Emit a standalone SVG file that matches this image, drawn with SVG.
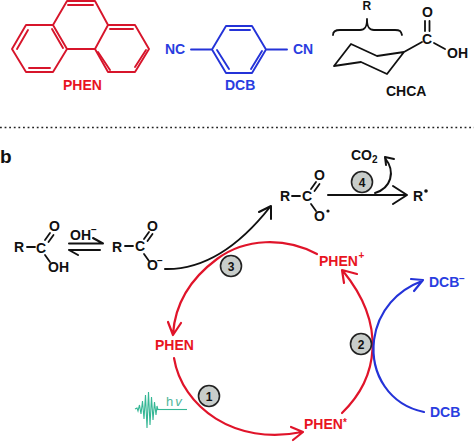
<svg xmlns="http://www.w3.org/2000/svg" width="474" height="444" viewBox="0 0 474 444">
<style>
text{font-family:"Liberation Sans",Arial,sans-serif;font-weight:bold;font-size:14px;fill:#111}
.r{fill:#e8141f}.u{fill:#2a3de0}.sm{font-size:10px}
.bond{fill:none;stroke:#111;stroke-width:1.800;stroke-linecap:round;stroke-linejoin:round}
.rb{fill:none;stroke:#d7152b;stroke-width:1.900;stroke-linecap:round;stroke-linejoin:round}
.ub{fill:none;stroke:#2433d8;stroke-width:1.900;stroke-linecap:round;stroke-linejoin:round}
.ca{fill:none;stroke:#111;stroke-width:2;stroke-linecap:round;stroke-linejoin:round}
.cr{fill:none;stroke:#e0142a;stroke-width:2.200;stroke-linecap:round;stroke-linejoin:round}
.cu{fill:none;stroke:#2433d8;stroke-width:2.200;stroke-linecap:round;stroke-linejoin:round}
.badge circle{fill:#c8cdca;stroke:#222;stroke-width:1.600}
.badge text{text-anchor:middle;font-size:12px}
.w{fill:none;stroke:#35b795;stroke-width:1.100}
</style>
<rect width="474" height="444" fill="#fff"/>
<g id="phen-structure">
<path class="rb" d="M12 49L26 25H53L67 49L53 72H26ZM53 25L67 1H95L108 25L95 49H67M108 25H135L149 49L135 72H108L95 49"/>
<path class="rb" d="M17 49L28 30M29 68H50M52 29L63 48M68 5H93M110 29H133M146 50L135 67M98 52L110 70"/>
<text class="r" x="63" y="90">PHEN</text>
</g>
<g id="dcb-structure">
<path class="ub" d="M191 49.500H212L226 26H252L266 49.500L252 73H226L212 49.500M266 49.500H287"/>
<path class="ub" d="M230 30H250M217 50L229 69M262 51L251 69"/>
<text class="u" x="165" y="54">NC</text><text class="u" x="293" y="54">CN</text>
<text class="u" x="225" y="90">DCB</text>
</g>
<g id="chca-structure">
<path class="bond" stroke-width="1.500" d="M334 66L351 44L377 56L404 52L387 74L361 62ZM404 52L422 42M425 21V31M429.500 21V31M434 43L445 49"/>
<path class="bond" d="M333 35C333 31 336 30 340 30H360C365 30 367 27 367 19C367 27 369 30 374 30H395C400 30 401 31 402 35"/>
<text x="362.500" y="10" style="font-size:12px">R</text><text x="422" y="44">C</text><text x="422" y="17">O</text><text x="447" y="58">OH</text>
<text x="386" y="96">CHCA</text>
</g>
<path id="divider" d="M0 127.500H474" fill="none" stroke="#222" stroke-width="1.700" stroke-dasharray="1.800 2.800"/>
<text id="panel-b" x="0" y="163" style="font-size:19px">b</text>
<g id="acid">
<text x="14" y="252">R</text><text x="36" y="253">C</text><text x="49" y="231">O</text><text x="48" y="272">OH</text>
<path class="bond" d="M27 247H35M45 240L50 233M48.500 242L53.500 235M45 255L50 262"/>
</g>
<g id="carboxylate">
<text x="112" y="252">R</text><text x="135" y="251">C</text><text x="147" y="231">O</text><text x="147" y="270">O</text><text class="sm" x="157" y="264">−</text>
<path class="bond" d="M125 246H133M144 239L149 232M147.500 241L152.500 234M144 254L149 261"/>
</g>
<g id="oh-label"><text x="70" y="240">OH</text><text class="sm" x="91" y="233">−</text></g>
<g id="radical">
<text x="280" y="201">R</text><text x="302" y="201">C</text><text x="314" y="180">O</text><text x="314" y="221">O</text>
<circle cx="328" cy="211" r="1.600" fill="#111"/>
<path class="bond" d="M292 196H300M311 189L316 182M314.500 191L319.500 184M311 204L316 211"/>
</g>
<g id="co2"><text x="351" y="160">CO</text><text x="372" y="163" style="font-size:10px">2</text></g>
<g id="r-radical"><text x="413" y="201">R</text><circle cx="426" cy="191" r="1.800" fill="#111"/></g>
<g id="phen-plus"><text class="r" x="319" y="266">PHEN</text><text class="r sm" x="358.500" y="259">+</text></g>
<g id="phen"><text class="r" x="155" y="350">PHEN</text></g>
<g id="phen-star"><text class="r" x="304" y="429">PHEN</text><text class="r sm" x="343" y="426">*</text></g>
<g id="dcb-minus"><text class="u" x="429" y="287">DCB</text><text class="u sm" x="459" y="282">−</text></g>
<g id="dcb"><text class="u" x="430" y="417">DCB</text></g>
<g id="connectors">
<path class="ca" stroke-width="1.700" d="M69 243.500H103L93 238M69 250H100M69 250L78 255"/>
<path class="ca" d="M165 269C205 270 240 245 270 207M259 212L271 206L271 219"/>
<path class="ca" d="M328 195H406M393 186L407 195L393 204"/>
<path class="ca" d="M375 193C391 188 396 172 385 158M386 165L385 157L394 159"/>
<path class="cr" d="M317 254C285 237 245 238 217 259C190 279 175 305 173 334M168 322L173 335L181 323"/>
<path class="cr" d="M174 358C182 407 235 446 302 432M291 427L303 432L293 440"/>
<path class="cr" d="M342 413C378 378 387 325 343 271M344 283L342 270L357 274"/>
<path class="cu" d="M424 412C390 405 370 375 374 340C378 310 398 290 422 281M411 279L423 280L414 291"/>
</g>
<g id="step-1" class="badge"><circle cx="209" cy="396" r="10.500"/><text x="209" y="400.500">1</text></g>
<g id="step-2" class="badge"><circle cx="361" cy="344" r="10.500"/><text x="361" y="348.500">2</text></g>
<g id="step-3" class="badge"><circle cx="231" cy="266" r="10.500"/><text x="231" y="270.500">3</text></g>
<g id="step-4" class="badge"><circle cx="362" cy="182" r="10.500"/><text x="362" y="186.500">4</text></g>
<g id="light">
<path class="w" d="M157 409.500H187"/>
<path class="w" d="M135 409L137 408L138 411L139.500 405L141 414L142.500 401L144 419L145.500 395L147 428L148.500 392L150 425L151.500 397L153 420L154.500 402L156 415L157 406L158 410"/>
<text x="166" y="406" style="font-size:13px;font-weight:normal;fill:#4fb59a;letter-spacing:2px">h<tspan font-style="italic">v</tspan></text>
</g>
</svg>
